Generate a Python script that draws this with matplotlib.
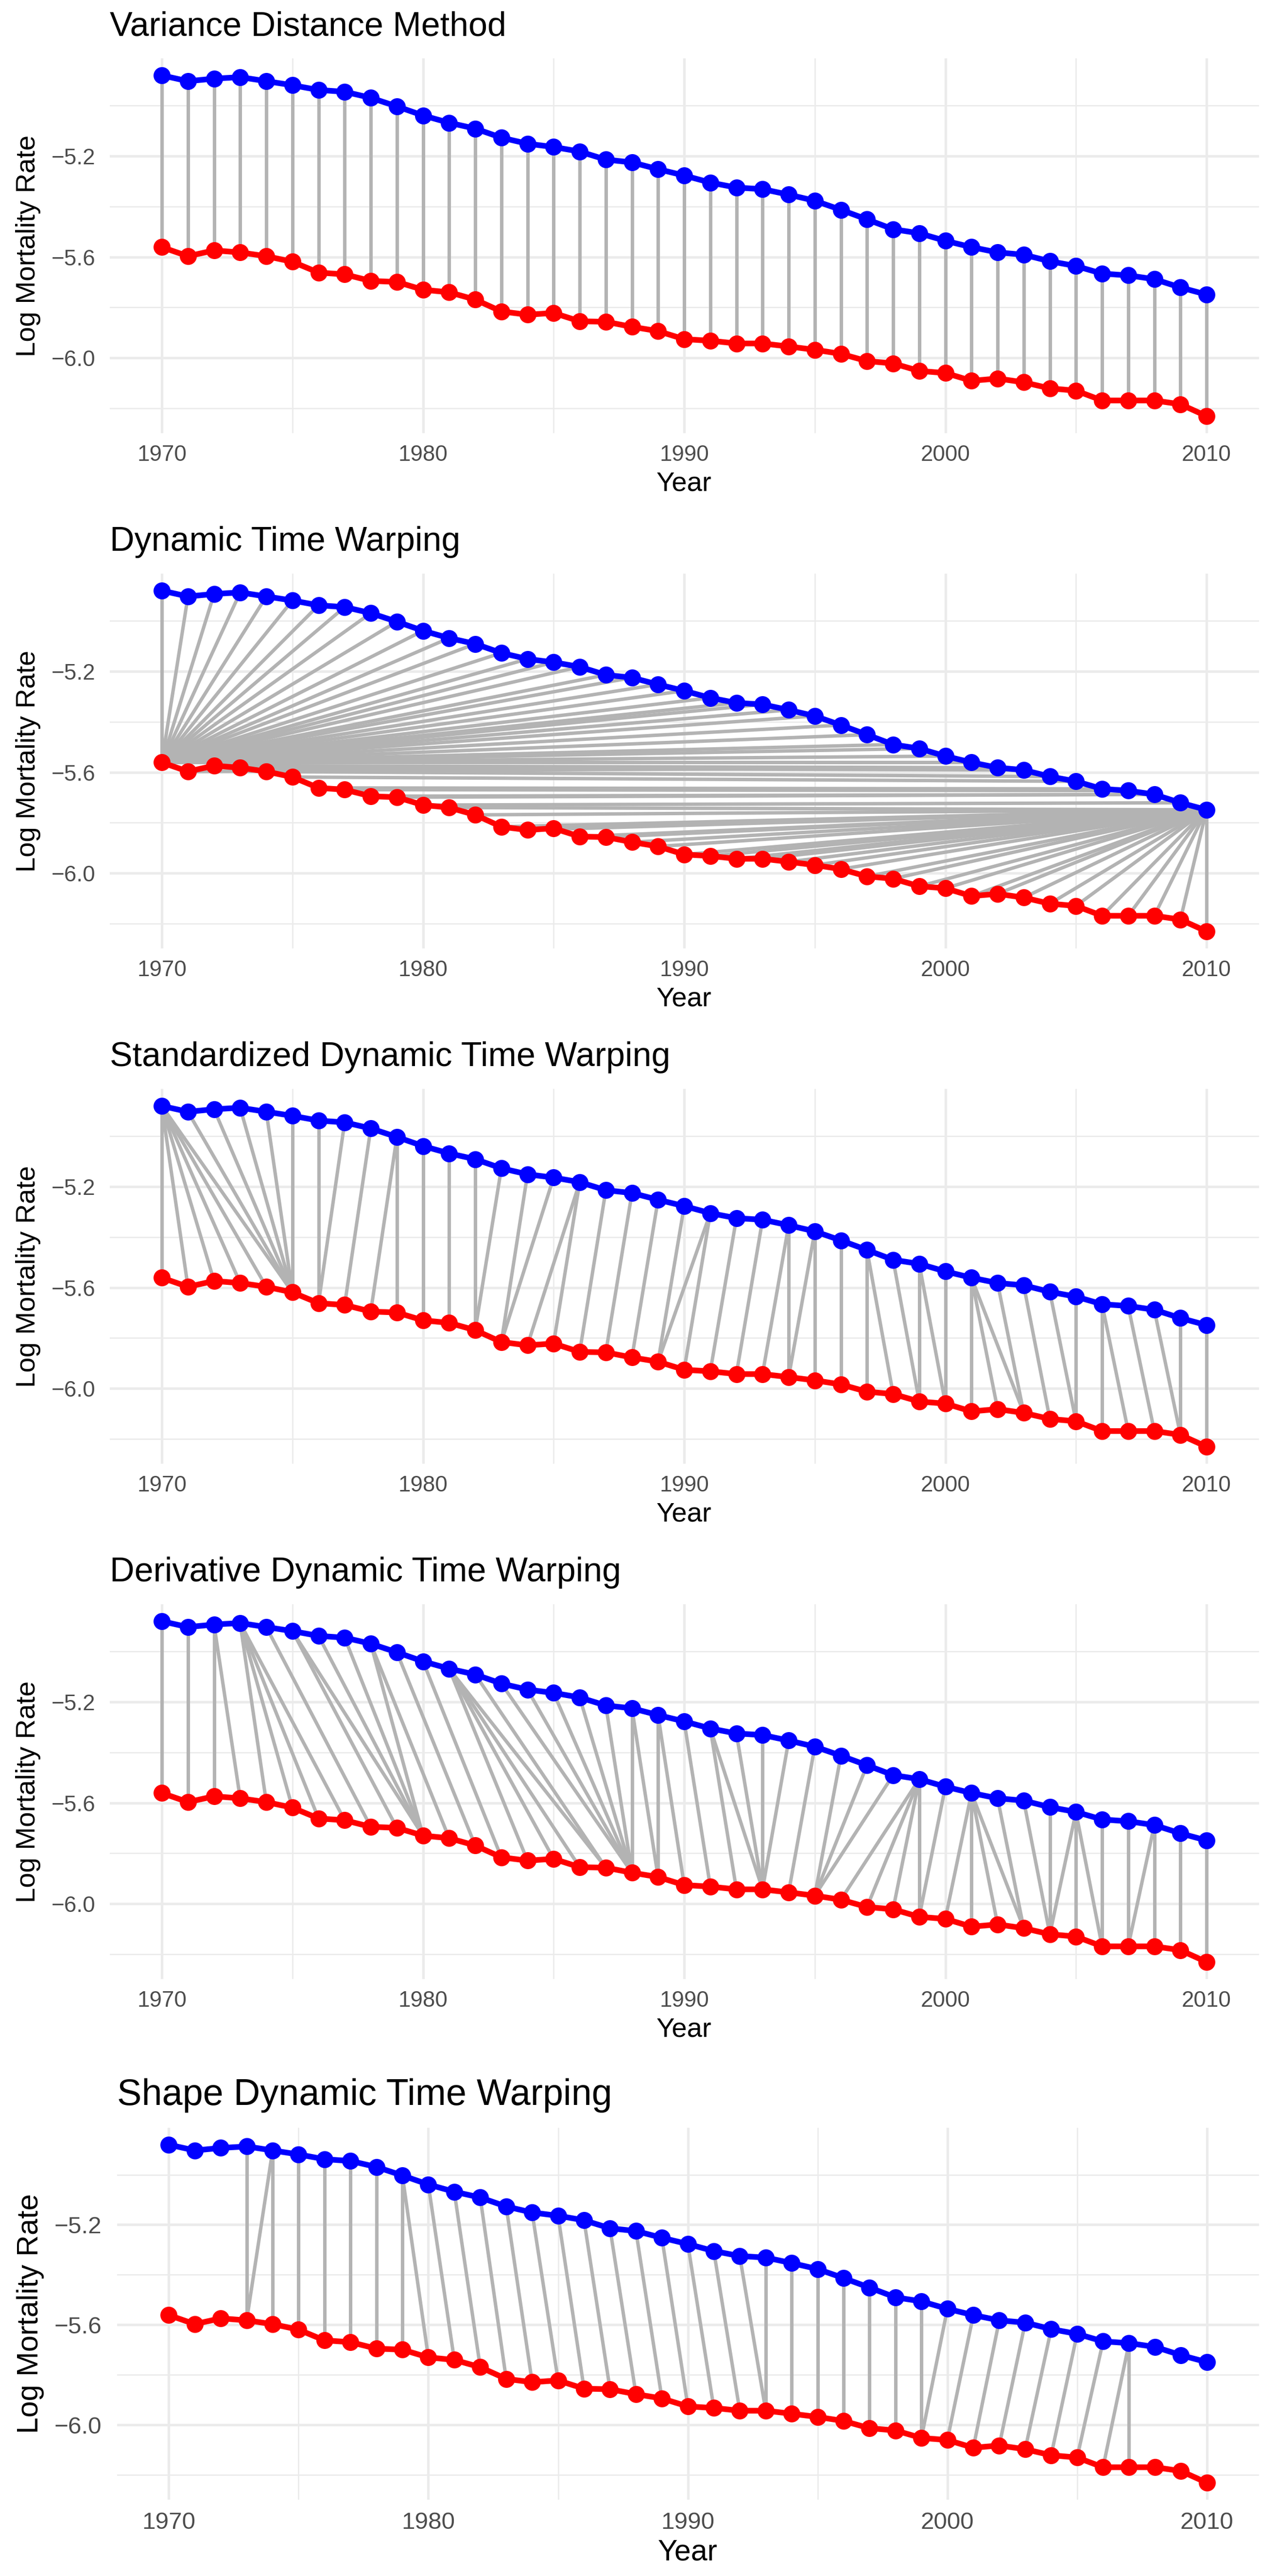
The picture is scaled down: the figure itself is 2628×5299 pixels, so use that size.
import matplotlib
matplotlib.use("Agg")
import matplotlib.pyplot as plt
from matplotlib.collections import LineCollection

plt.rcParams['font.family'] = ['Liberation Sans', 'DejaVu Sans']

years = list(range(1970, 2011))

blue_rate = [-4.880, -4.903, -4.893, -4.887, -4.903, -4.919, -4.938, -4.945, -4.969, -5.003,
             -5.039, -5.068, -5.091, -5.127, -5.151, -5.164, -5.182, -5.214, -5.225, -5.252,
             -5.277, -5.305, -5.325, -5.331, -5.353, -5.377, -5.413, -5.451, -5.490, -5.506,
             -5.536, -5.561, -5.582, -5.591, -5.617, -5.636, -5.666, -5.673, -5.688, -5.721,
             -5.749]
red_rate = [-5.561, -5.597, -5.574, -5.582, -5.597, -5.619, -5.662, -5.669, -5.695, -5.699,
            -5.730, -5.740, -5.769, -5.816, -5.829, -5.822, -5.855, -5.857, -5.877, -5.894,
            -5.926, -5.932, -5.943, -5.943, -5.955, -5.968, -5.984, -6.013, -6.022, -6.052,
            -6.060, -6.091, -6.082, -6.097, -6.121, -6.130, -6.169, -6.169, -6.169, -6.184,
            -6.231]

titles = ["Variance Distance Method", "Dynamic Time Warping",
          "Standardized Dynamic Time Warping", "Derivative Dynamic Time Warping",
          "Shape Dynamic Time Warping"]

# matched (blue year, red year) pairs for each method
vdm_pairs = [(y, y) for y in years]

dtw_pairs = ([(b, 1970) for b in range(1970, 2002)] +
             [(2002, 1971), (2002, 1972), (2003, 1973), (2004, 1974), (2005, 1975),
              (2006, 1976), (2007, 1977), (2008, 1978), (2008, 1979), (2009, 1980)] +
             [(2010, r) for r in range(1981, 2011)])

sdtw_pairs = [(1970, 1970), (1970, 1971), (1970, 1972), (1970, 1973), (1970, 1974), (1970, 1975),
              (1971, 1975), (1972, 1975), (1973, 1975), (1974, 1975), (1975, 1975), (1976, 1976),
              (1977, 1976), (1978, 1977), (1979, 1978), (1979, 1979), (1980, 1980), (1981, 1981),
              (1982, 1982), (1983, 1982), (1984, 1983), (1985, 1983), (1986, 1984), (1986, 1985),
              (1987, 1986), (1988, 1987), (1989, 1988), (1990, 1989), (1991, 1989), (1991, 1990),
              (1992, 1991), (1993, 1992), (1994, 1993), (1994, 1994), (1995, 1994), (1995, 1995),
              (1996, 1996), (1997, 1997), (1997, 1998), (1998, 1999), (1999, 1999), (1999, 2000),
              (2000, 2000), (2001, 2001), (2001, 2002), (2001, 2003), (2002, 2003), (2003, 2004),
              (2004, 2005), (2005, 2005), (2006, 2006), (2006, 2007), (2007, 2008), (2008, 2009),
              (2009, 2009), (2010, 2010)]

ddtw_pairs = [(1970, 1970), (1971, 1971), (1972, 1972), (1972, 1973), (1973, 1974), (1973, 1975),
              (1973, 1976), (1973, 1977), (1974, 1978), (1975, 1979), (1975, 1980), (1976, 1980),
              (1977, 1980), (1978, 1980), (1978, 1981), (1979, 1982), (1980, 1983), (1981, 1984),
              (1981, 1985), (1981, 1986), (1981, 1987), (1982, 1987), (1983, 1988), (1984, 1988),
              (1985, 1988), (1986, 1988), (1987, 1988), (1988, 1988), (1988, 1989), (1989, 1989),
              (1989, 1990), (1990, 1991), (1991, 1992), (1991, 1993), (1992, 1993), (1993, 1993),
              (1994, 1993), (1995, 1994), (1996, 1995), (1997, 1995), (1998, 1995), (1999, 1996),
              (1999, 1997), (1999, 1998), (1999, 1999), (2000, 1999), (2001, 2000), (2001, 2001),
              (2001, 2002), (2001, 2003), (2002, 2003), (2003, 2004), (2004, 2004), (2005, 2004),
              (2005, 2005), (2005, 2006), (2006, 2006), (2007, 2007), (2008, 2007), (2008, 2008),
              (2009, 2009), (2010, 2010)]

shape_pairs = ([(1973, 1973), (1974, 1973)] +
               [(y, y) for y in range(1974, 1980)] +
               [(y, y + 1) for y in range(1979, 1993)] +
               [(y, y) for y in range(1993, 2000)] +
               [(y, y - 1) for y in range(2000, 2008)] +
               [(2007, 2007)])

all_pairs = [vdm_pairs, dtw_pairs, sdtw_pairs, ddtw_pairs, shape_pairs]

x_major = [1970, 1980, 1990, 2000, 2010]
x_minor = [1975, 1985, 1995, 2005]
y_major = [-5.2, -5.6, -6.0]
y_minor = [-5.0, -5.4, -5.8, -6.2]
y_labels = ["\u22125.2", "\u22125.6", "\u22126.0"]

W, H, DPI = 2628, 5299, 300
fig = plt.figure(figsize=(W / DPI, H / DPI), dpi=DPI)

slot = 1060
# panel geometry in pixels (left, right, top, bottom relative to slot), text scale
geom = [(225.5, 2590.5, 120, 891, 1.0)] * 4 + [(240.6, 2590.5, 137, 902, 1.08)]

lo, hi = min(red_rate), max(blue_rate)
pad = 0.05 * (hi - lo)

for k in range(5):
    left, right, top, bottom, s = geom[k]
    y0 = k * slot
    ax = fig.add_axes([left / W, 1 - (y0 + bottom) / H, (right - left) / W, (bottom - top) / H])
    ax.set_xlim(1968, 2012)
    ax.set_ylim(lo - pad, hi + pad)

    ax.set_xticks(x_major)
    ax.set_xticks(x_minor, minor=True)
    ax.set_yticks(y_major)
    ax.set_yticklabels(y_labels)
    ax.set_yticks(y_minor, minor=True)
    ax.grid(which='minor', color='#EBEBEB', lw=0.65)
    ax.grid(which='major', color='#EBEBEB', lw=1.25)
    ax.set_axisbelow(True)
    for sp in ax.spines.values():
        sp.set_visible(False)
    ax.tick_params(which='both', length=0)
    ax.tick_params(axis='x', pad=5.5 * s, labelsize=11 * s, labelcolor='#4D4D4D')
    ax.tick_params(axis='y', pad=7 * s, labelsize=11 * s, labelcolor='#4D4D4D')

    segs = [[(b, blue_rate[b - 1970]), (r, red_rate[r - 1970])] for b, r in all_pairs[k]]
    ax.add_collection(LineCollection(segs, colors='#B3B3B3', linewidths=1.7, zorder=2))

    ax.plot(years, blue_rate, color='#0000FF', lw=2.8, zorder=3)
    ax.plot(years, red_rate, color='#FF0000', lw=2.8, zorder=3)
    ax.plot(years, blue_rate, 'o', color='#0000FF', ms=8.4, mew=0, zorder=4)
    ax.plot(years, red_rate, 'o', color='#FF0000', ms=8.4, mew=0, zorder=4)

    title_y = 55 if k < 4 else 70
    fig.text(left / W, 1 - (y0 + title_y) / H, titles[k], ha='left', va='center',
             fontsize=16.8 * s, color='black')
    ylab_x = 58 if k < 4 else 62.5
    fig.text(ylab_x / W, 1 - (y0 + (top + bottom) / 2) / H, "Log Mortality Rate",
             rotation=90, ha='center', va='center', fontsize=13.5 * s)
    xlab_y = 996 if k < 4 else 1011
    fig.text((left + right) / 2 / W, 1 - (y0 + xlab_y) / H, "Year",
             ha='center', va='center', fontsize=13.5 * s)

fig.savefig("out.png", dpi=DPI, facecolor='white')
